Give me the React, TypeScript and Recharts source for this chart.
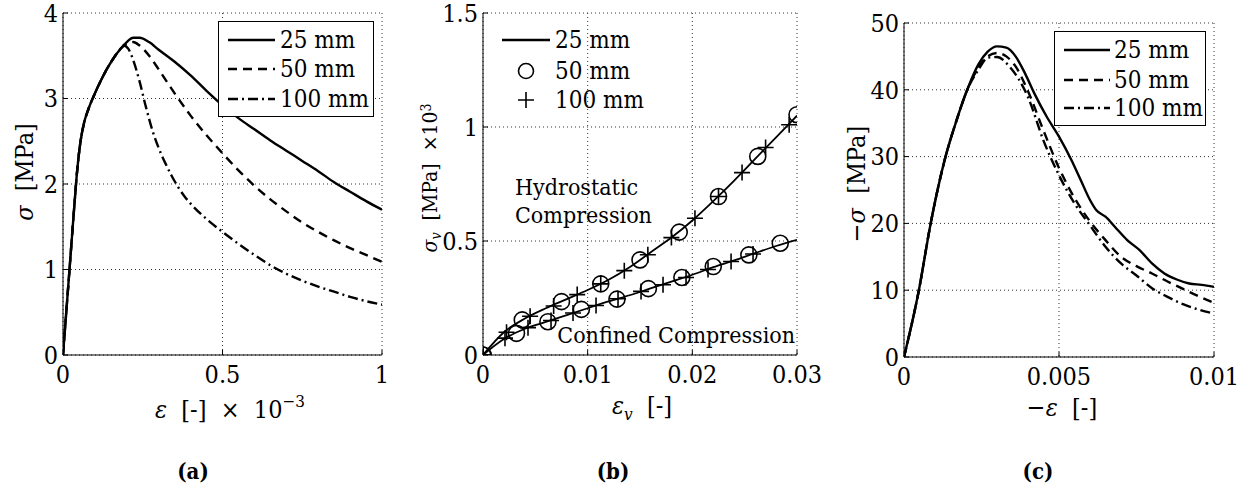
import React from "react"
import { CartesianGrid, ComposedChart, Label, Legend, Line, ReferenceDot, Scatter, XAxis, YAxis } from "recharts"

const FONT = "DejaVu Serif Condensed, DejaVu Serif"

// (a) uniaxial tension, strain x 1e-3 vs stress [MPa]
const tension25: [number, number][] = [
  [0, 0], [0.02, 0.98], [0.035, 1.72], [0.045, 2.18], [0.055, 2.5], [0.065, 2.7], [0.08, 2.88],
  [0.1, 3.06], [0.12, 3.22], [0.14, 3.36], [0.16, 3.48], [0.18, 3.58], [0.2, 3.66], [0.22, 3.71],
  [0.24, 3.71], [0.27, 3.66], [0.3, 3.57], [0.35, 3.43], [0.4, 3.27], [0.45, 3.09], [0.5, 2.92],
  [0.55, 2.77], [0.6, 2.64], [0.65, 2.51], [0.7, 2.39], [0.75, 2.27], [0.8, 2.15], [0.85, 2.02],
  [0.9, 1.91], [0.95, 1.8], [1, 1.7],
]
const tension50: [number, number][] = [
  [0, 0], [0.02, 0.98], [0.035, 1.72], [0.045, 2.18], [0.055, 2.5], [0.065, 2.7], [0.08, 2.88],
  [0.1, 3.06], [0.12, 3.22], [0.14, 3.36], [0.16, 3.48], [0.18, 3.58], [0.2, 3.64], [0.22, 3.66],
  [0.24, 3.62], [0.27, 3.5], [0.3, 3.34], [0.35, 3.06], [0.4, 2.8], [0.45, 2.57], [0.5, 2.36],
  [0.55, 2.16], [0.6, 1.98], [0.65, 1.82], [0.7, 1.68], [0.75, 1.55], [0.8, 1.44], [0.85, 1.34],
  [0.9, 1.25], [0.95, 1.17], [1, 1.09],
]
const tension100: [number, number][] = [
  [0, 0], [0.02, 0.98], [0.035, 1.72], [0.045, 2.18], [0.055, 2.5], [0.065, 2.7], [0.08, 2.88],
  [0.1, 3.06], [0.12, 3.22], [0.14, 3.36], [0.16, 3.48], [0.18, 3.58], [0.19, 3.62], [0.205, 3.58],
  [0.22, 3.45], [0.24, 3.2], [0.26, 2.9], [0.28, 2.63], [0.3, 2.42], [0.32, 2.25], [0.34, 2.1],
  [0.36, 1.97], [0.38, 1.86], [0.4, 1.77], [0.45, 1.59], [0.5, 1.44], [0.55, 1.3], [0.6, 1.17],
  [0.65, 1.05], [0.7, 0.95], [0.75, 0.87], [0.8, 0.8], [0.85, 0.74], [0.9, 0.68], [0.95, 0.63], [1, 0.59],
]
const tensionXTicks = [0, 0.5, 1]
const tensionYTicks = [0, 1, 2, 3, 4]

// (b) volumetric strain vs pressure x 1e3 MPa
const hydro25: [number, number][] = [
  [0, 0], [0.002, 0.1], [0.004, 0.16], [0.006, 0.205], [0.008, 0.245], [0.01, 0.285], [0.012, 0.33],
  [0.014, 0.385], [0.016, 0.45], [0.018, 0.515], [0.02, 0.59], [0.022, 0.675], [0.024, 0.765],
  [0.026, 0.86], [0.028, 0.955], [0.03, 1.05],
]
const hydro50: [number, number][] = [
  [0, 0], [0.00375, 0.154], [0.0075, 0.234], [0.01125, 0.312], [0.015, 0.417], [0.01875, 0.539],
  [0.0225, 0.695], [0.02625, 0.871], [0.03, 1.054],
]
const hydro100: [number, number][] = [
  [0, 0], [0.00225, 0.1], [0.0045, 0.17], [0.00675, 0.215], [0.009, 0.265], [0.01125, 0.312],
  [0.0135, 0.37], [0.01575, 0.44], [0.018, 0.515], [0.02025, 0.6], [0.0225, 0.695], [0.02475, 0.8],
  [0.027, 0.91], [0.02925, 1.01],
]
const confined25: [number, number][] = [
  [0, 0], [0.002, 0.07], [0.004, 0.115], [0.006, 0.145], [0.008, 0.175], [0.01, 0.205], [0.012, 0.235],
  [0.014, 0.262], [0.016, 0.292], [0.018, 0.322], [0.02, 0.352], [0.022, 0.385], [0.024, 0.415],
  [0.026, 0.447], [0.028, 0.478], [0.03, 0.505],
]
const confined50: [number, number][] = [
  [0, 0], [0.0032, 0.095], [0.0062, 0.146], [0.0094, 0.2], [0.0128, 0.245], [0.0158, 0.291],
  [0.019, 0.34], [0.022, 0.388], [0.0254, 0.439], [0.0284, 0.49],
]
const confined100: [number, number][] = [
  [0, 0], [0.0021, 0.074], [0.0043, 0.12], [0.0065, 0.151], [0.0086, 0.184], [0.0108, 0.217],
  [0.0129, 0.247], [0.0151, 0.279], [0.0172, 0.308], [0.0194, 0.34], [0.0215, 0.375], [0.0237, 0.41],
  [0.0258, 0.443],
]
const volXTicks = [0, 0.01, 0.02, 0.03]
const volYTicks = [0, 0.5, 1, 1.5]

// (c) uniaxial compression, -strain vs -stress [MPa]
const comp25: [number, number][] = [
  [0, 0], [0.00048, 10], [0.00086, 20], [0.00134, 30], [0.0017, 35.5], [0.00204, 40], [0.0024, 43.8],
  [0.0027, 45.7], [0.003, 46.5], [0.0033, 46.3], [0.0036, 45], [0.0039, 42.5], [0.0042, 39.5],
  [0.0046, 36], [0.005, 33], [0.0054, 29.5], [0.0057, 26.5], [0.006, 23.5], [0.0062, 22], [0.0065, 21],
  [0.0068, 19.5], [0.0072, 17.5], [0.0076, 16], [0.008, 14], [0.0084, 12.5], [0.0088, 11.6],
  [0.0092, 11], [0.0096, 10.8], [0.01, 10.5],
]
const comp50: [number, number][] = [
  [0, 0], [0.00048, 10], [0.00086, 20], [0.00134, 30], [0.0017, 35.5], [0.00204, 40], [0.0024, 43.3],
  [0.0027, 45], [0.003, 45.5], [0.0033, 45], [0.0036, 43.5], [0.004, 39.8], [0.0045, 33.9], [0.005, 28.3],
  [0.0055, 23.8], [0.006, 20.3], [0.0065, 17.5], [0.007, 15], [0.0075, 13.6], [0.008, 12.5],
  [0.0085, 11.3], [0.009, 10.2], [0.0095, 9.1], [0.01, 8.1],
]
const comp100: [number, number][] = [
  [0, 0], [0.00048, 10], [0.00086, 20], [0.00134, 30], [0.0017, 35.5], [0.00204, 40], [0.0024, 43],
  [0.0027, 44.8], [0.003, 44.9], [0.0034, 43.5], [0.004, 38.9], [0.0045, 32.4], [0.005, 27.2],
  [0.0055, 23], [0.006, 19.7], [0.0065, 16.5], [0.007, 14], [0.0075, 12.2], [0.008, 10.3], [0.0085, 9],
  [0.009, 7.9], [0.0095, 7.1], [0.01, 6.5],
]
const compXTicks = [0, 0.005, 0.01]
const compYTicks = [0, 10, 20, 30, 40, 50]

const sizeLabels = ["25 mm", "50 mm", "100 mm"]

const toXY = (pts: [number, number][]) => pts.map(([x, y]) => ({ x, y }))

const tickStyle = { fill: "#000", fontSize: 25, fontFamily: FONT }

// box with inward ticks on all four sides, like matlab
function frame(xDomain: number[], xTicks: number[], yDomain: number[], yTicks: number[], xHeight: number, yWidth: number, labels: React.ReactNode) {
  return [
    <CartesianGrid key="grid" stroke="#333" strokeDasharray="1 3" strokeWidth={1} />,
    <XAxis key="xb" dataKey="x" type="number" domain={xDomain} ticks={xTicks} interval={0} allowDataOverflow
      height={xHeight} tickSize={-5} tickMargin={15} tick={tickStyle} tickFormatter={(v) => String(v)}
      axisLine={{ stroke: "#000" }} tickLine={{ stroke: "#000" }}>
      <Label content={() => <g>{labels}</g>} />
    </XAxis>,
    <XAxis key="xt" xAxisId="t" orientation="top" type="number" domain={xDomain} ticks={xTicks} interval={0}
      height={0} tickSize={-5} tick={false} axisLine={{ stroke: "#000" }} tickLine={{ stroke: "#000" }} />,
    <YAxis key="yl" type="number" domain={yDomain} ticks={yTicks} interval={0} allowDataOverflow
      width={yWidth} tickSize={-5} tickMargin={10} tick={tickStyle} tickFormatter={(v) => String(v)}
      axisLine={{ stroke: "#000" }} tickLine={{ stroke: "#000" }} />,
    <YAxis key="yr" yAxisId="r" orientation="right" type="number" domain={yDomain} ticks={yTicks} interval={0}
      width={0} tickSize={-5} tick={false} axisLine={{ stroke: "#000" }} tickLine={{ stroke: "#000" }} />,
  ]
}

type Row = { label: string; kind: "line" | "circle" | "plus"; dash?: string }

function legendBox(rows: Row[], w: number, h: number, rowY: number[], x0: number, x1: number, tx: number, border: boolean) {
  return () => (
    <svg width={w} height={h} style={{ display: "block" }}>
      {border && <rect x={0.5} y={0.5} width={w - 1} height={h - 1} fill="#fff" stroke="#000" strokeWidth={1} />}
      {rows.map((r, i) => {
        const y = rowY[i]
        const cx = (x0 + x1) / 2
        return (
          <g key={r.label}>
            {r.kind === "line" && <line x1={x0} x2={x1} y1={y} y2={y} stroke="#000" strokeWidth={2.4} strokeDasharray={r.dash} />}
            {r.kind === "circle" && <circle cx={cx} cy={y} r={7.5} fill="none" stroke="#000" strokeWidth={1.6} />}
            {r.kind === "plus" && (
              <path d={`M${cx - 8},${y}H${cx + 8}M${cx},${y - 8}V${y + 8}`} stroke="#000" strokeWidth={1.6} />
            )}
            <text x={tx} y={y + 8} fontFamily={FONT} fontSize={24} fill="#000">{r.label}</text>
          </g>
        )
      })}
    </svg>
  )
}

const circleShape = (p: any) => <circle cx={p.cx} cy={p.cy} r={8} fill="none" stroke="#000" strokeWidth={1.6} />
const plusShape = (p: any) => (
  <path d={`M${p.cx - 8},${p.cy}H${p.cx + 8}M${p.cx},${p.cy - 8}V${p.cy + 8}`} stroke="#000" strokeWidth={1.6} />
)

const DASH = "9 6"
const DASHDOT = "10 4 2 4"

const lineProps = {
  dataKey: "y",
  type: "monotone" as const,
  dot: false,
  isAnimationActive: false,
  stroke: "#000",
  legendType: "none" as const,
}

const caption = (x: number, t: string) => (
  <text x={x} y={479} textAnchor="middle" fontFamily={FONT} fontSize={22} fontWeight="bold" fill="#000">{t}</text>
)

export default function App() {
  const txt = { fontFamily: FONT, fontSize: 25, fill: "#000" }
  const ann = { fontFamily: FONT, fontSize: 23, fill: "#000" }
  const lineRows: Row[] = [
    { label: sizeLabels[0], kind: "line" },
    { label: sizeLabels[1], kind: "line", dash: DASH },
    { label: sizeLabels[2], kind: "line", dash: DASHDOT },
  ]
  const markerRows: Row[] = [
    { label: sizeLabels[0], kind: "line" },
    { label: sizeLabels[1], kind: "circle" },
    { label: sizeLabels[2], kind: "plus" },
  ]

  const labelsA = (
    <>
      <text x={230} y={418} textAnchor="middle" {...txt} xmlSpace="preserve">
        <tspan fontStyle="italic">ε</tspan>{"  [-]  ×  10"}<tspan dy={-11} fontSize={17}>−3</tspan>
      </text>
      <text x={33} y={172} transform="rotate(-90 33 172)" textAnchor="middle" {...txt} xmlSpace="preserve">
        <tspan fontStyle="italic">σ</tspan>{"  [MPa]"}
      </text>
      {caption(193, "(a)")}
    </>
  )
  // chart (b) svg starts 20px left of the panel so the y label has room
  const labelsB = (
    <>
      <text x={242} y={414} textAnchor="middle" {...txt} xmlSpace="preserve">
        <tspan fontStyle="italic">ε</tspan><tspan fontStyle="italic" fontSize={17} dy={6}>v</tspan><tspan dy={-6}>{"  [-]"}</tspan>
      </text>
      <text x={37} y={178} transform="rotate(-90 37 178)" textAnchor="middle" {...txt} fontSize={21} xmlSpace="preserve">
        <tspan fontStyle="italic">σ</tspan><tspan fontStyle="italic" fontSize={14} dy={4}>v</tspan>
        <tspan dy={-4}>{"  [MPa]  ×10"}</tspan><tspan dy={-6} fontSize={14}>3</tspan>
      </text>
      {caption(213, "(b)")}
    </>
  )
  const labelsC = (
    <>
      <text x={235} y={416} textAnchor="middle" {...txt} xmlSpace="preserve">
        {"−"}<tspan fontStyle="italic">ε</tspan>{"  [-]"}
      </text>
      <text x={38} y={184} transform="rotate(-90 38 184)" textAnchor="middle" {...txt} xmlSpace="preserve">
        {"−"}<tspan fontStyle="italic">σ</tspan>{"  [MPa]"}
      </text>
      {caption(211, "(c)")}
    </>
  )

  const noOffset = { layout: "vertical" as const, align: "center" as const, verticalAlign: "middle" as const }

  return (
    <div style={{ position: "relative", width: 1247, height: 492, background: "#fff" }}>
      <style>{`body{margin:0}`}</style>

      <div style={{ position: "absolute", left: 0, top: 0 }}>
        <ComposedChart width={400} height={492} margin={{ top: 13, right: 18, bottom: 0, left: 0 }}>
          {frame([0, 1], tensionXTicks, [0, 4], tensionYTicks, 137, 63, labelsA)}
          <Line {...lineProps} data={toXY(tension100)} strokeWidth={2.4} strokeDasharray={DASHDOT} />
          <Line {...lineProps} data={toXY(tension50)} strokeWidth={2.4} strokeDasharray={DASH} />
          <Line {...lineProps} data={toXY(tension25)} strokeWidth={2.4} />
          <Legend {...noOffset} content={legendBox(lineRows, 156, 96, [19, 48, 78], 10, 57, 62, true)}
            wrapperStyle={{ left: 218, top: 21, width: 156, height: 96 }} />
        </ComposedChart>
      </div>

      <div style={{ position: "absolute", left: 400, top: 0 }}>
        <ComposedChart width={440} height={492} margin={{ top: 13, right: 43, bottom: 0, left: 0 }}>
          {frame([0, 0.03], volXTicks, [0, 1.5], volYTicks, 137, 83, labelsB)}
          <Line {...lineProps} data={toXY(hydro25)} strokeWidth={1.8} />
          <Line {...lineProps} data={toXY(confined25)} strokeWidth={1.8} />
          <Scatter data={toXY(hydro50)} dataKey="y" shape={circleShape} isAnimationActive={false} legendType="none" />
          <Scatter data={toXY(confined50)} dataKey="y" shape={circleShape} isAnimationActive={false} legendType="none" />
          <Scatter data={toXY(hydro100)} dataKey="y" shape={plusShape} isAnimationActive={false} legendType="none" />
          <Scatter data={toXY(confined100)} dataKey="y" shape={plusShape} isAnimationActive={false} legendType="none" />
          <ReferenceDot x={0.00306} y={0.7} r={0} shape={(p: any) => (
            <text x={p.cx} y={p.cy} {...ann}>Hydrostatic</text>
          )} />
          <ReferenceDot x={0.00306} y={0.58} r={0} shape={(p: any) => (
            <text x={p.cx} y={p.cy} {...ann}>Compression</text>
          )} />
          <ReferenceDot x={0.0071} y={0.053} r={0} shape={(p: any) => (
            <text x={p.cx} y={p.cy} {...ann}>Confined Compression</text>
          )} />
          <Legend {...noOffset} content={legendBox(markerRows, 160, 95, [19, 50, 79], 7, 55, 60, false)}
            wrapperStyle={{ left: 95, top: 21, width: 160, height: 95 }} />
        </ComposedChart>
      </div>

      <div style={{ position: "absolute", left: 827, top: 0 }}>
        <ComposedChart width={420} height={492} margin={{ top: 23, right: 33, bottom: 0, left: 0 }}>
          {frame([0, 0.01], compXTicks, [0, 50], compYTicks, 135, 77, labelsC)}
          <Line {...lineProps} data={toXY(comp100)} strokeWidth={2.4} strokeDasharray={DASHDOT} />
          <Line {...lineProps} data={toXY(comp50)} strokeWidth={2.4} strokeDasharray={DASH} />
          <Line {...lineProps} data={toXY(comp25)} strokeWidth={2.4} />
          <Legend {...noOffset} content={legendBox(lineRows, 152, 95, [19, 49, 77], 10, 56, 60, true)}
            wrapperStyle={{ left: 227, top: 31, width: 152, height: 95 }} />
        </ComposedChart>
      </div>
    </div>
  )
}
